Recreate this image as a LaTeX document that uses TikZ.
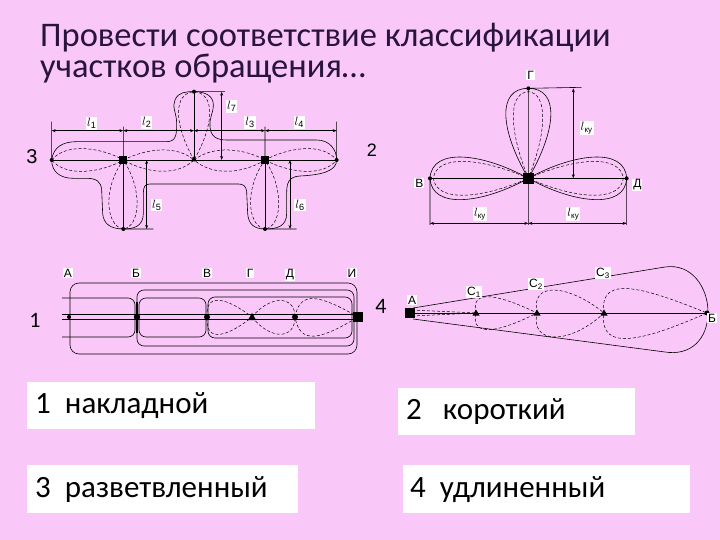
\documentclass[tikz,border=0pt]{standalone}
\usepackage{fontspec}
\setmainfont{Carlito}
\newfontfamily\arl{Liberation Sans}
\usetikzlibrary{arrows.meta}
\definecolor{bg}{RGB}{250,200,248}
\definecolor{ttl}{RGB}{40,20,60}
\tikzset{
 dl/.style={dashed,line width=0.5pt,dash pattern=on 3pt off 2pt},
 sl/.style={line width=0.6pt},
 dim/.style={line width=0.9pt,{Stealth[length=4pt]}-{Stealth[length=4pt]}},
 lab/.style={font=\arl\fontsize{13}{14}\selectfont,fill=white,inner sep=1pt},
 ltr/.style={font=\arl\fontsize{12}{13}\selectfont,inner sep=1pt},
 ans/.style={fill=white,anchor=west,font=\fontsize{31}{33}\selectfont,inner sep=0pt},
 dot/.style={circle,fill=black,inner sep=0pt,minimum size=4pt},
 sq/.style={rectangle,fill=black,inner sep=0pt,minimum size=8pt},
}
\begin{document}
\begin{tikzpicture}[x=1pt,y=-1pt]
\fill[bg] (0,0) rectangle (720,540);
\useasboundingbox (0,0) rectangle (720,540);
% title
\node[anchor=west,text=ttl,font=\fontsize{34.5}{36}\selectfont,inner sep=0pt] (t1) at (40,38) {Провести соответствие классификации};
\node[anchor=west,text=ttl,font=\fontsize{34.5}{36}\selectfont,inner sep=0pt] (t2) at (40,69) {участков обращения…};
% answers
\path[fill=white] (27,382) rectangle (315,429);
\node[ans] (a1) at (35,406) {1\ \ накладной};
\path[fill=white] (398,388) rectangle (635,435);
\node[ans] (a2) at (406,412) {2\ \ \ короткий};
\path[fill=white] (27,465) rectangle (298,513);
\node[ans] (a3) at (35,490) {3\ \ разветвленный};
\path[fill=white] (403,465) rectangle (690,513);
\node[ans] (a4) at (410,490) {4\ \ удлиненный};

% ===== diagram 3 (branched)
\node[font=\arl\fontsize{20}{22}\selectfont] (n3) at (32,157) {3};
\node[font=\arl\fontsize{18}{20}\selectfont] (n2) at (372,150) {2};
\begin{scope}[shift={(20,80)},scale=1/3]
\coordinate (L) at (95,240); \coordinate (S1) at (310,240);
\coordinate (T) at (522,240); \coordinate (S2) at (735,240);
\coordinate (R) at (950,240); \coordinate (TP) at (522,35);
\coordinate (B1) at (310,447); \coordinate (B2) at (735,447);
% outline
\draw[sl] (95,240) .. controls (100,200) and (130,185) .. (170,185) -- (440,185)
 .. controls (470,185) and (470,160) .. (470,130) .. controls (470,100) and (455,80) .. (465,60)
 .. controls (475,35) and (500,35) .. (522,35) .. controls (560,35) and (580,50) .. (580,75)
 .. controls (580,100) and (568,110) .. (570,140) .. controls (572,170) and (590,180) .. (620,180) -- (890,180)
 .. controls (930,180) and (950,210) .. (950,240) .. controls (950,275) and (900,285) .. (840,288)
 .. controls (805,290) and (800,310) .. (800,340) -- (800,400) .. controls (800,440) and (770,447) .. (735,447)
 .. controls (700,447) and (685,430) .. (683,400) -- (680,335) .. controls (678,318) and (670,312) .. (655,312) -- (390,312)
 .. controls (375,312) and (370,320) .. (370,340) -- (370,400) .. controls (370,440) and (340,447) .. (310,447)
 .. controls (270,447) and (250,430) .. (248,400) -- (245,330) .. controls (243,305) and (230,295) .. (200,295)
 -- (160,295) .. controls (120,295) and (95,275) .. (95,240);
% dashed lobes
\draw[dl] (L) .. controls (140,185) and (250,205) .. (S1) .. controls (250,275) and (140,295) .. (L);
\draw[dl] (S1) .. controls (380,205) and (470,195) .. (T) .. controls (470,290) and (380,280) .. (S1);
\draw[dl] (T) .. controls (580,195) and (670,205) .. (S2) .. controls (670,280) and (580,290) .. (T);
\draw[dl] (S2) .. controls (800,205) and (905,185) .. (R) .. controls (905,295) and (800,275) .. (S2);
\draw[dl] (T) .. controls (460,130) and (460,40) .. (TP) .. controls (585,40) and (585,130) .. (T);
\draw[dl] (S1) .. controls (245,330) and (260,440) .. (B1) .. controls (360,440) and (370,330) .. (S1);
\draw[dl] (S2) .. controls (670,330) and (685,440) .. (B2) .. controls (785,440) and (795,330) .. (S2);
% axes
\draw[sl] (L) -- (R);
\draw[sl] (TP) -- (T);
\draw[sl] (S1) -- (B1); \draw[sl] (S2) -- (B2);
\draw[sl] (95,125) -- (L); \draw[sl] (310,140) -- (S1); \draw[sl] (735,140) -- (S2); \draw[sl] (950,125) -- (R);
\draw[dim] (95,152) -- (310,152); \draw[dim] (310,152) -- (522,152);
\draw[dim] (522,152) -- (735,152); \draw[dim] (735,152) -- (950,152);
\draw[sl] (TP) -- (615,35); \draw[dim] (605,35) -- (605,240);
\draw[sl] (B1) -- (400,447); \draw[dim] (380,240) -- (380,447);
\draw[sl] (B2) -- (830,447); \draw[dim] (810,240) -- (810,447);
\node[sq] at (S1) {}; \node[sq] at (S2) {};
\fill (T) ++(0,-12) -- ++(9,16) -- ++(-18,0) -- cycle;
\fill (L) circle (6); \fill (R) circle (6); \fill (TP) circle (6); \fill (B1) circle (6); \fill (B2) circle (6);
\node[lab] at (215,130) {$l$\textsubscript{1}};
\node[lab] at (380,128) {$l$\textsubscript{2}};
\node[lab] at (690,128) {$l$\textsubscript{3}};
\node[lab] at (838,128) {$l$\textsubscript{4}};
\node[lab] at (635,80) {$l$\textsubscript{7}};
\node[lab] at (410,375) {$l$\textsubscript{5}};
\node[lab] at (840,375) {$l$\textsubscript{6}};
\end{scope}

% ===== diagram 2 (short)
\begin{scope}[shift={(400,60)},scale=1/3]
\coordinate (C) at (385,355); \coordinate (G) at (385,85);
\coordinate (V) at (90,355); \coordinate (D) at (680,355);
\draw[sl] (C) .. controls (300,210) and (290,85) .. (G) .. controls (480,85) and (470,210) .. (C);
\draw[dl] (C) .. controls (330,220) and (320,100) .. (385,95) .. controls (445,100) and (440,220) .. (C);
\draw[sl] (C) .. controls (250,280) and (95,260) .. (V) .. controls (95,450) and (250,430) .. (C);
\draw[dl] (C) .. controls (250,295) and (110,280) .. (100,355) .. controls (110,430) and (250,415) .. (C);
\draw[sl] (C) .. controls (520,280) and (675,260) .. (D) .. controls (675,450) and (520,430) .. (C);
\draw[dl] (C) .. controls (520,295) and (660,280) .. (670,355) .. controls (660,430) and (520,415) .. (C);
\draw[sl] (V) -- (D); \draw[sl] (G) -- (385,495);
\draw[sl] (V) -- (90,495); \draw[sl] (D) -- (680,495);
\draw[dim] (90,490) -- (385,490); \draw[dim] (385,490) -- (680,490);
\draw[sl] (G) -- (545,82); \draw[dim] (520,85) -- (520,355);
\node[sq,minimum size=11pt] at (C) {};
\fill (G) circle (6); \fill (V) circle (6); \fill (D) circle (6);
\node[lab] at (560,205) {$l$\textsubscript{\fontsize{8}{9}\selectfont ку}};
\node[lab] at (240,462) {$l$\textsubscript{\fontsize{8}{9}\selectfont ку}};
\node[lab] at (520,462) {$l$\textsubscript{\fontsize{8}{9}\selectfont ку}};
\node[ltr,fill=white] at (392,45) {Г};
\node[ltr,fill=white] at (58,370) {В};
\node[ltr,fill=white] at (712,375) {Д};
\end{scope}

% ===== diagram 1 (overlay)
\node[font=\fontsize{22}{24}\selectfont] (n1) at (35,320) {1};
\node[font=\fontsize{22}{24}\selectfont] (n4) at (381,306) {4};
\coordinate (A) at (69,317); \coordinate (Bb) at (137,317); \coordinate (Vv) at (207,317);
\coordinate (Gg) at (252,317); \coordinate (Dd) at (295,317); \coordinate (I) at (358,317);
\draw[sl,rounded corners=9] (70,283) rectangle (357,354);
\draw[sl,rounded corners=7] (137,290) rectangle (354,346);
\draw[sl,rounded corners=7] (208,297) rectangle (352,338);
\draw[sl,rounded corners=7] (62,298) -| (135,337) -- (62,337);
\draw[sl,rounded corners=7] (139,298) rectangle (206,337);
\draw[sl] (62,314) -- (363,314); \draw[sl] (62,319) -- (363,319);
\draw[dl] (Vv) .. controls (205,290) and (230,300) .. (Gg) .. controls (230,335) and (205,345) .. (Vv);
\draw[dl] (Gg) .. controls (270,295) and (295,295) .. (Dd) .. controls (295,340) and (270,340) .. (Gg);
\draw[dl] (Dd) .. controls (300,290) and (320,295) .. (I) .. controls (320,340) and (300,345) .. (Dd);
\draw[line width=2.2pt] (137,302) -- (137,333);
\fill (A) circle (2); \fill (Bb) circle (3.2); \fill (Vv) circle (3); \fill (Dd) circle (3);
\fill (Gg) ++(0,-4) -- ++(4,7) -- ++(-8,0) -- cycle;
\node[sq,minimum size=10pt] at (I) {};
\node[ltr,fill=white] at (68,273) {А};
\node[ltr,fill=white] at (136,273) {Б};
\node[ltr,fill=white] at (207,273) {В};
\node[ltr,fill=white] at (250,273) {Г};
\node[ltr,fill=white] at (290,275) {Д};
\node[ltr,fill=white] at (352,273) {И};

% ===== diagram 4 (elongated)
\coordinate (AA) at (410,313); \coordinate (BB) at (707,313);
\coordinate (C1) at (476,313); \coordinate (C2) at (537,313); \coordinate (C3) at (604,313);
\draw[sl] (413,308) -- (665,267) .. controls (692,263) and (708,288) .. (708,312) .. controls (708,340) and (690,356) .. (665,352) -- (413,319);
\draw[dl] (412,310) -- (C1); \draw[dl] (412,316) -- (C1);
\draw[dl] (C1) .. controls (470,288) and (500,295) .. (C2) .. controls (500,332) and (470,338) .. (C1);
\draw[dl] (C2) .. controls (530,280) and (570,285) .. (C3) .. controls (570,345) and (530,345) .. (C2);
\draw[dl] (C3) .. controls (598,272) and (650,290) .. (BB) .. controls (650,338) and (598,355) .. (C3);
\draw[sl] (AA) -- (BB);
\node[sq,minimum size=10pt] at (AA) {};
\fill (BB) circle (2.5);
\foreach \c in {C1,C2,C3} \fill (\c) ++(0,-3.5) -- ++(3.5,6) -- ++(-7,0) -- cycle;
\node[ltr,fill=white] at (412,300) {А};
\node[ltr,fill=white] at (712,318) {Б};
\node[ltr,fill=white] at (474,292) {С\textsubscript{1}};
\node[ltr,fill=white] at (536,284) {С\textsubscript{2}};
\node[ltr,fill=white] at (603,273) {С\textsubscript{3}};
\end{tikzpicture}
\end{document}
